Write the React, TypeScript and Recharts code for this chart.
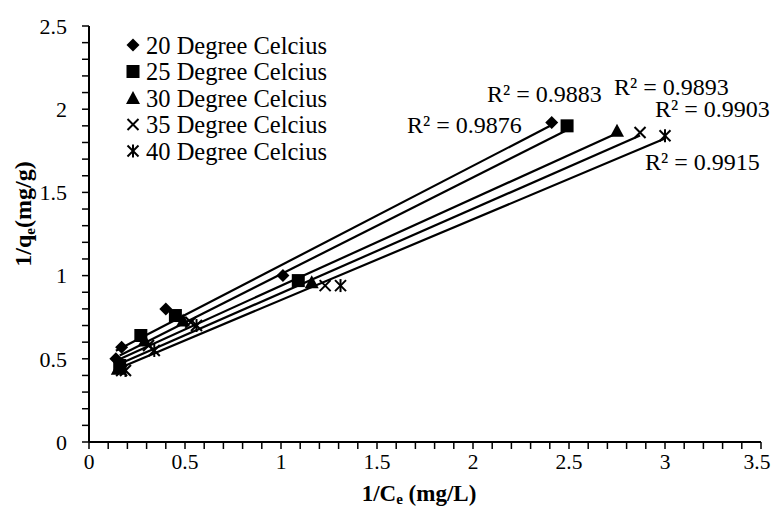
import { ScatterChart, Scatter, XAxis, YAxis } from 'recharts';

const FONT = '"Liberation Serif", "Times New Roman", serif';

// 1/Ce (mg/L) and 1/qe (mg/g) for each temperature
const t20 = [
  { x: 0.14, y: 0.5 },
  { x: 0.17, y: 0.57 },
  { x: 0.4, y: 0.8 },
  { x: 1.01, y: 1.0 },
  { x: 2.41, y: 1.92 },
];
const t25 = [
  { x: 0.16, y: 0.46 },
  { x: 0.27, y: 0.64 },
  { x: 0.45, y: 0.76 },
  { x: 1.09, y: 0.97 },
  { x: 2.49, y: 1.9 },
];
const t30 = [
  { x: 0.15, y: 0.44 },
  { x: 0.29, y: 0.61 },
  { x: 0.49, y: 0.73 },
  { x: 1.16, y: 0.96 },
  { x: 2.75, y: 1.87 },
];
const t35 = [
  { x: 0.17, y: 0.43 },
  { x: 0.31, y: 0.58 },
  { x: 0.53, y: 0.72 },
  { x: 1.23, y: 0.94 },
  { x: 2.87, y: 1.86 },
];
const t40 = [
  { x: 0.19, y: 0.43 },
  { x: 0.34, y: 0.55 },
  { x: 0.56, y: 0.7 },
  { x: 1.31, y: 0.94 },
  { x: 3.0, y: 1.84 },
];

const seriesNames = [
  '20 Degree Celcius',
  '25 Degree Celcius',
  '30 Degree Celcius',
  '35 Degree Celcius',
  '40 Degree Celcius',
];
const seriesData = [t20, t25, t30, t35, t40];

const r2Labels = ['R² = 0.9876', 'R² = 0.9883', 'R² = 0.9893', 'R² = 0.9903', 'R² = 0.9915'];

// major ticks every 0.5, minor every 0.1
const xTicks = Array.from({ length: 36 }, (_, i) => Number((i * 0.1).toFixed(1)));
const yTicks = Array.from({ length: 26 }, (_, i) => Number((i * 0.1).toFixed(1)));

// least-squares trendline between the first and last point
function trend(pts: { x: number; y: number }[]) {
  const n = pts.length;
  const mx = pts.reduce((s, p) => s + p.x, 0) / n;
  const my = pts.reduce((s, p) => s + p.y, 0) / n;
  let sxy = 0;
  let sxx = 0;
  pts.forEach((p) => {
    sxy += (p.x - mx) * (p.y - my);
    sxx += (p.x - mx) * (p.x - mx);
  });
  const b = sxy / sxx;
  const a = my - b * mx;
  const xs = pts.map((p) => p.x);
  const x0 = Math.min(...xs);
  const x1 = Math.max(...xs);
  return [
    { x: x0, y: a + b * x0 },
    { x: x1, y: a + b * x1 },
  ];
}

type Mark = 'diamond' | 'square' | 'triangle' | 'cross' | 'star';
const marks: Mark[] = ['diamond', 'square', 'triangle', 'cross', 'star'];

function Marker({ kind, cx, cy }: { kind: Mark; cx: number; cy: number }) {
  if (kind === 'diamond') {
    const r = 6.5;
    return <polygon points={`${cx},${cy - r} ${cx + r},${cy} ${cx},${cy + r} ${cx - r},${cy}`} fill="#000" />;
  }
  if (kind === 'square') {
    return <rect x={cx - 6.5} y={cy - 6.5} width={13} height={13} fill="#000" />;
  }
  if (kind === 'triangle') {
    return <polygon points={`${cx},${cy - 7} ${cx + 7},${cy + 6} ${cx - 7},${cy + 6}`} fill="#000" />;
  }
  const r = 5.5;
  return (
    <g stroke="#000" strokeWidth={2}>
      <line x1={cx - r} y1={cy - r} x2={cx + r} y2={cy + r} />
      <line x1={cx - r} y1={cy + r} x2={cx + r} y2={cy - r} />
      {kind === 'star' && <line x1={cx} y1={cy - r - 1} x2={cx} y2={cy + r + 1} />}
    </g>
  );
}

const isMajor = (v: number) => Math.abs(v * 2 - Math.round(v * 2)) < 1e-6;

function XTick(props: any) {
  const { x, y, payload } = props;
  if (!isMajor(payload.value)) return null;
  // keep the last label inside the picture
  const shift = payload.value === 3.5 ? -4 : 0;
  return (
    <text x={x + shift} y={y} dy="0.72em" textAnchor="middle" fontFamily={FONT} fontSize={21.5} fill="#000">
      {payload.value}
    </text>
  );
}

function YTick(props: any) {
  const { x, y, payload } = props;
  if (!isMajor(payload.value)) return null;
  return (
    <text x={x} y={y} dy="0.35em" textAnchor="end" fontFamily={FONT} fontSize={22} fill="#000">
      {payload.value}
    </text>
  );
}

const r2Pos = [
  { x: 407, y: 133 },
  { x: 487, y: 102 },
  { x: 614, y: 95 },
  { x: 655, y: 117 },
  { x: 645, y: 170 },
];

export default function App() {
  return (
    <div style={{ position: 'absolute', left: 0, top: 0, width: 772, height: 509, background: '#fff' }}>
      <ScatterChart width={772} height={509} margin={{ top: 26, right: 11, bottom: 0, left: 0 }}>
        <XAxis
          type="number"
          dataKey="x"
          domain={[0, 3.5]}
          ticks={xTicks}
          interval={0}
          tickSize={7}
          tickMargin={5}
          height={67}
          axisLine={{ stroke: '#000', strokeWidth: 2 }}
          tickLine={{ stroke: '#000', strokeWidth: 1.5 }}
          tick={<XTick />}
        />
        <YAxis
          type="number"
          dataKey="y"
          domain={[0, 2.5]}
          ticks={yTicks}
          interval={0}
          tickSize={7}
          tickMargin={15}
          width={89}
          axisLine={{ stroke: '#000', strokeWidth: 2 }}
          tickLine={{ stroke: '#000', strokeWidth: 1.5 }}
          tick={<YTick />}
        />
        {seriesData.map((d, i) => (
          <Scatter
            key={`trend-${i}`}
            data={trend(d)}
            line={{ stroke: '#000', strokeWidth: 2.2 }}
            shape={() => <g />}
            isAnimationActive={false}
          />
        ))}
        {seriesData.map((d, i) => (
          <Scatter
            key={`pts-${i}`}
            name={seriesNames[i]}
            data={d}
            shape={(p: any) => <Marker kind={marks[i]} cx={p.cx} cy={p.cy} />}
            isAnimationActive={false}
          />
        ))}
      </ScatterChart>
      <svg width={772} height={509} style={{ position: 'absolute', left: 0, top: 0, pointerEvents: 'none' }}>
        {seriesNames.map((n, i) => {
          const cy = 45 + i * 26.5;
          return (
            <g key={n}>
              <Marker kind={marks[i]} cx={133} cy={cy} />
              <text x={146} y={cy} dy="0.35em" fontFamily={FONT} fontSize={24.5} fill="#000">
                {n}
              </text>
            </g>
          );
        })}
        {r2Labels.map((t, i) => (
          <text key={t} x={r2Pos[i].x} y={r2Pos[i].y} fontFamily={FONT} fontSize={24} fill="#000">
            {t}
          </text>
        ))}
        <text x={419} y={501} textAnchor="middle" fontFamily={FONT} fontSize={23} fontWeight="bold" fill="#000">
          1/C
          <tspan fontSize={15} dy={3}>e</tspan>
          <tspan dy={-3}> (mg/L)</tspan>
        </text>
        <text
          transform="translate(31,214) rotate(-90)"
          textAnchor="middle"
          fontFamily={FONT}
          fontSize={24}
          fontWeight="bold"
          fill="#000"
        >
          1/q
          <tspan fontSize={15} dy={4}>e</tspan>
          <tspan dy={-4}>(mg/g)</tspan>
        </text>
      </svg>
    </div>
  );
}
